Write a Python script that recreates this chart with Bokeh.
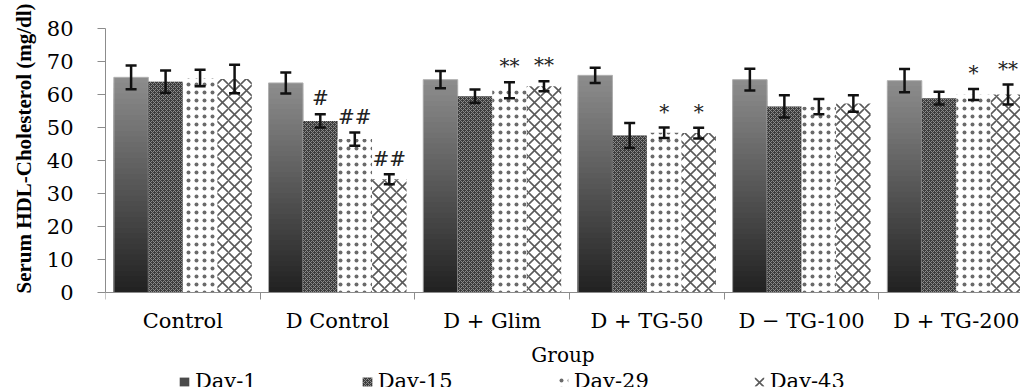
from bokeh.plotting import figure
from bokeh.models import (Range1d, FixedTicker, ColumnDataSource, Whisker, TeeHead,
                          Legend, LegendItem, Title)
from bokeh.core.properties import value
from bokeh.embed import file_html
from bokeh.resources import INLINE

groups = ["Control", "D Control", "D + Glim", "D + TG-50", "D \u2212 TG-100", "D + TG-200"]
series = ["Day-1", "Day-15", "Day-29", "Day-43"]
day1 = [65.2, 63.5, 64.5, 65.8, 64.5, 64.2]
day1_err = [3.6, 3.2, 2.6, 2.3, 3.3, 3.5]
day15 = [63.9, 52.0, 59.5, 47.6, 56.4, 58.9]
day15_err = [3.4, 2.0, 2.0, 3.8, 3.4, 1.9]
day29 = [65.0, 46.5, 61.3, 48.4, 56.3, 60.0]
day29_err = [2.5, 2.0, 2.4, 1.6, 2.3, 1.7]
day43 = [64.7, 34.3, 62.5, 48.3, 57.3, 60.0]
day43_err = [4.3, 1.5, 1.5, 1.6, 2.5, 3.0]
marks15 = ["", "#", "", "", "", ""]
marks29 = ["", "##", "**", "*", "", "*"]
marks43 = ["", "##", "**", "*", "", "**"]
y_ticks = [0, 10, 20, 30, 40, 50, 60, 70, 80]

SERIF = "DejaVu Serif"
BW = 0.223
offsets = [-1.5 * BW, -0.5 * BW, 0.5 * BW, 1.5 * BW]

# frame runs to the bottom of the figure; the x axis sits at y = 0
p = figure(width=1020, height=387, output_backend="svg", toolbar_location=None,
           x_range=Range1d(0, 5.915), y_range=Range1d(-28.79, 80),
           min_border_left=105, min_border_right=0, min_border_top=28, min_border_bottom=0)
p.outline_line_color = None
p.grid.visible = False
p.background_fill_color = "white"

centers = [i + 0.5 for i in range(len(groups))]

def xs(k):
    return [c + offsets[k] for c in centers]

# Day-1: vertical gradient bars built from nested slices
N = 40
gx, gtop, gcol = [], [], []
for i in range(N):
    frac = (N - i) / N
    t = i / (N - 1)
    c = int(round(0x8c + (0x22 - 0x8c) * t))
    col = "#%02x%02x%02x" % (c, c, c)
    for x, v in zip(xs(0), day1):
        gx.append(x)
        gtop.append(v * frac)
        gcol.append(col)
p.vbar(x=gx, top=gtop, bottom=0, width=BW, fill_color=gcol, line_color=None)
p.vbar(x=xs(0), top=day1, width=BW, fill_color=None, line_color="#b0b0b0", line_width=1)

r15 = p.vbar(x=xs(1), top=day15, width=BW, fill_color="#3c3c3c", line_color=None,
             hatch_pattern="diagonal_cross", hatch_color="#8a8a8a", hatch_scale=4, hatch_weight=1)
r29 = p.vbar(x=xs(2), top=day29, width=BW, fill_color="white", line_color=None,
             hatch_pattern="dot", hatch_color="#6a6a6a", hatch_scale=8, hatch_weight=0.5)
r43 = p.vbar(x=xs(3), top=day43, width=BW, fill_color="white", line_color=None,
             hatch_pattern="diagonal_cross", hatch_color="#5a5a5a", hatch_scale=12, hatch_weight=1.6)

# legend proxy for Day-1
r1 = p.vbar(x=[-10], top=[1], width=0.1, fill_color="#4a4a4a", line_color=None)

# error bars
for k, (vals, errs) in enumerate([(day1, day1_err), (day15, day15_err),
                                   (day29, day29_err), (day43, day43_err)]):
    src = ColumnDataSource(dict(x=xs(k), lo=[v - e for v, e in zip(vals, errs)],
                                hi=[v + e for v, e in zip(vals, errs)]))
    w = Whisker(source=src, base="x", lower="lo", upper="hi", line_color="#111111", line_width=2.5,
                level="overlay",
                upper_head=TeeHead(size=11, line_width=2.5, line_color="#111111"),
                lower_head=TeeHead(size=11, line_width=2.5, line_color="#111111"))
    p.add_layout(w)

# significance marks
for k, (vals, errs, marks) in enumerate([(day15, day15_err, marks15),
                                          (day29, day29_err, marks29),
                                          (day43, day43_err, marks43)], start=1):
    mx, my, mt = [], [], []
    for x, v, e, m in zip(xs(k), vals, errs, marks):
        if m:
            mx.append(x)
            my.append(v + e + 4.8)
            mt.append(m)
    p.text(x=mx, y=my, text=mt, text_align="center", text_baseline="middle",
           text_font=value(SERIF), text_font_size="20px", text_color="#222222")

# axes
p.yaxis.bounds = (0, 80)
p.yaxis.ticker = FixedTicker(ticks=y_ticks, minor_ticks=[])
p.yaxis.axis_line_color = "#8c8c8c"
p.yaxis.major_tick_line_color = "#8c8c8c"
p.yaxis.major_tick_out = 8
p.yaxis.major_tick_in = 0
p.yaxis.minor_tick_line_color = None
p.yaxis.major_label_text_font = SERIF
p.yaxis.major_label_text_font_size = "21px"
p.yaxis.major_label_text_color = "black"
p.yaxis.major_label_standoff = 24

ytitle = Title(text="Serum HDL-Cholesterol (mg/dl)", align="left", offset=94, standoff=16,
               text_font="Liberation Serif", text_font_style="bold", text_font_size="21px",
               text_color="black")
p.add_layout(ytitle, "left")

p.xaxis.fixed_location = 0
p.xaxis.ticker = FixedTicker(ticks=centers, minor_ticks=list(range(0, 7)))
p.xaxis.major_label_overrides = {c: g for c, g in zip(centers, groups)}
p.xaxis.axis_line_color = "#8c8c8c"
p.xaxis.major_tick_line_color = None
p.xaxis.minor_tick_line_color = "#8c8c8c"
p.xaxis.minor_tick_out = 7
p.xaxis.minor_tick_in = 0
p.xaxis.major_label_text_font = SERIF
p.xaxis.major_label_text_font_size = "21px"
p.xaxis.major_label_text_color = "black"
p.xaxis.major_label_standoff = 10
p.xaxis.axis_label = "Group"
p.xaxis.axis_label_text_font = SERIF
p.xaxis.axis_label_text_font_style = "normal"
p.xaxis.axis_label_text_font_size = "20px"
p.xaxis.axis_label_text_color = "black"
p.xaxis.axis_label_standoff = 6

legend = Legend(items=[LegendItem(label=series[0], renderers=[r1]),
                       LegendItem(label=series[1], renderers=[r15]),
                       LegendItem(label=series[2], renderers=[r29]),
                       LegendItem(label=series[3], renderers=[r43])],
                orientation="horizontal", location=(73, -6), spacing=104,
                glyph_width=12, glyph_height=11, label_standoff=5, padding=0, margin=0,
                border_line_color=None, background_fill_alpha=0,
                label_text_font=SERIF, label_text_font_size="21px", label_text_color="black")
p.add_layout(legend, "center")

open("out.html", "w").write(file_html(p, INLINE))
